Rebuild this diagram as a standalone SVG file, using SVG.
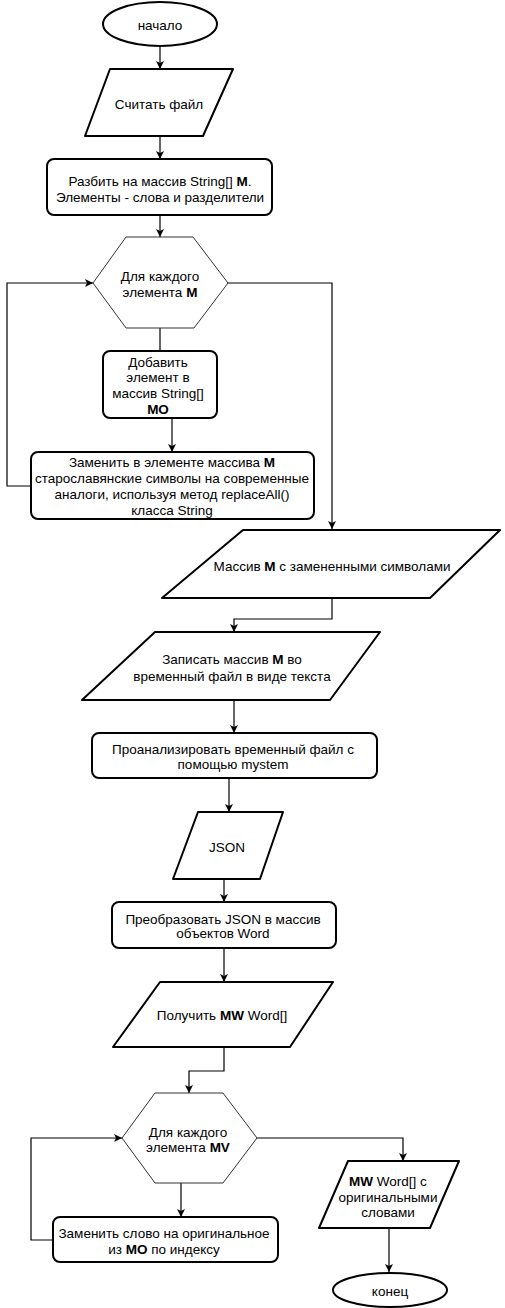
<svg xmlns="http://www.w3.org/2000/svg" width="505" height="1308" viewBox="0 0 505 1308">
<style>
.box{fill:#fff;stroke:#000;stroke-width:2;stroke-linejoin:round}
.hex{fill:#fff;stroke:#333;stroke-width:1}
.ln{fill:none;stroke:#000;stroke-width:1.2}
text{font-family:"Liberation Sans",Arial,sans-serif;font-size:13.5px;fill:#000;text-anchor:middle}
.b{font-weight:bold}
</style>
<defs>
<marker id="ar" markerWidth="10" markerHeight="10" refX="8" refY="4" orient="auto" markerUnits="userSpaceOnUse">
<path d="M0,0 L8,4 L0,8 L2,4 z" fill="#000"/>
</marker>
</defs>
<rect width="505" height="1308" fill="#fff"/>
<g id="connectors">
<path class="ln" d="M160,46 V69" marker-end="url(#ar)"/>
<path class="ln" d="M160,136 V159" marker-end="url(#ar)"/>
<path class="ln" d="M160,215 V237" marker-end="url(#ar)"/>
<path class="ln" d="M160,328 V351"/>
<path class="ln" d="M172,418 V452" marker-end="url(#ar)"/>
<path class="ln" d="M31,486 H7 V283 H93" marker-end="url(#ar)"/>
<path class="ln" d="M228,283 H332 V529" marker-end="url(#ar)"/>
<path class="ln" d="M332,598 V619 H234 V632" marker-end="url(#ar)"/>
<path class="ln" d="M234,700 V733" marker-end="url(#ar)"/>
<path class="ln" d="M229,778 V812" marker-end="url(#ar)"/>
<path class="ln" d="M224,879 V902" marker-end="url(#ar)"/>
<path class="ln" d="M224,948 V982" marker-end="url(#ar)"/>
<path class="ln" d="M224,1047 V1071 H189 V1093" marker-end="url(#ar)"/>
<path class="ln" d="M257,1138 H403 V1161" marker-end="url(#ar)"/>
<path class="ln" d="M181,1183 V1217" marker-end="url(#ar)"/>
<path class="ln" d="M53,1240 H31 V1138 H122" marker-end="url(#ar)"/>
<path class="ln" d="M389,1228 V1272" marker-end="url(#ar)"/>
</g>
<g id="start">
<ellipse class="box" cx="160" cy="24" rx="57" ry="22"/>
<text x="160" y="30">начало</text>
</g>
<g id="read">
<polygon class="box" points="110,69 233,69 203,136 85,136"/>
<text x="159" y="109">Считать файл</text>
</g>
<g id="split">
<rect class="box" x="47" y="159" width="225" height="56" rx="7"/>
<text x="160" y="186">Разбить на массив String[] <tspan class="b">M</tspan>.</text>
<text x="160" y="202">Элементы - слова и разделители</text>
</g>
<g id="loop1">
<polygon class="hex" points="93,283 126,237 193,237 228,283 194,328 126,328"/>
<text x="160" y="281">Для каждого</text>
<text x="160" y="297">элемента <tspan class="b">M</tspan></text>
</g>
<g id="add">
<rect class="box" x="103" y="351" width="114" height="67" rx="7"/>
<text x="158" y="367">Добавить</text>
<text x="158" y="382">элемент в</text>
<text x="158" y="398">массив String[]</text>
<text x="158" y="414" class="b">MO</text>
</g>
<g id="replace">
<rect class="box" x="31" y="452" width="283" height="67" rx="7"/>
<text x="172" y="467">Заменить в элементе массива <tspan class="b">M</tspan></text>
<text x="172" y="483">старославянские символы на современные</text>
<text x="172" y="499">аналоги, используя метод replaceAll()</text>
<text x="172" y="515">класса String</text>
</g>
<g id="arrM">
<polygon class="box" points="243,530 500,530 430,598 162,598"/>
<text x="332" y="571">Массив <tspan class="b">M</tspan> с замененными символами</text>
</g>
<g id="write">
<polygon class="box" points="155,632 380,632 330,700 82,700"/>
<text x="232" y="664">Записать массив <tspan class="b">M</tspan> во</text>
<text x="232" y="681">временный файл в виде текста</text>
</g>
<g id="analyze">
<rect class="box" x="92" y="733" width="285" height="45" rx="7"/>
<text x="233" y="754">Проанализировать временный файл с</text>
<text x="233" y="769">помощью mystem</text>
</g>
<g id="json">
<polygon class="box" points="198,812 283,812 260,879 173,879"/>
<text x="227" y="852">JSON</text>
</g>
<g id="convert">
<rect class="box" x="112" y="902" width="224" height="46" rx="7"/>
<text x="223" y="924">Преобразовать JSON в массив</text>
<text x="223" y="938">объектов Word</text>
</g>
<g id="getMW">
<polygon class="box" points="160,982 333,982 290,1047 113,1047"/>
<text x="222" y="1020">Получить <tspan class="b">MW</tspan> Word[]</text>
</g>
<g id="loop2">
<polygon class="hex" points="122,1138 155,1093 223,1093 257,1138 223,1183 155,1183"/>
<text x="188" y="1137">Для каждого</text>
<text x="188" y="1152">элемента <tspan class="b">MV</tspan></text>
</g>
<g id="replaceWord">
<rect class="box" x="53" y="1217" width="225" height="45" rx="7"/>
<text x="164" y="1238">Заменить слово на оригинальное</text>
<text x="164" y="1254">из <tspan class="b">MO</tspan> по индексу</text>
</g>
<g id="result">
<polygon class="box" points="348,1161 459,1161 430,1228 319,1228"/>
<text x="388" y="1186"><tspan class="b">MW</tspan> Word[] с</text>
<text x="388" y="1202">оригинальными</text>
<text x="388" y="1217">словами</text>
</g>
<g id="end">
<ellipse class="box" cx="390" cy="1290" rx="57" ry="17"/>
<text x="390" y="1296">конец</text>
</g>
</svg>
